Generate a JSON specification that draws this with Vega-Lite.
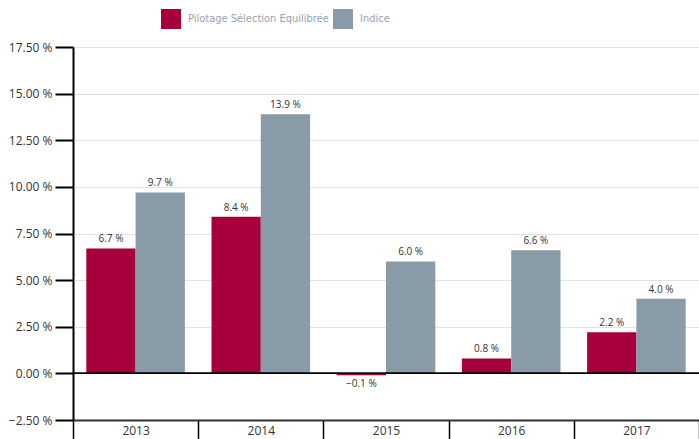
{
  "$schema": "https://vega.github.io/schema/vega-lite/v6.json",
  "width": 626,
  "height": 373,
  "autosize": "none",
  "padding": {"left": 73, "top": 47, "right": 0, "bottom": 19},
  "background": "white",
  "data": {
    "values": [
      {"year": "2013", "series": "Pilotage Sélection Equilibrée", "value": 6.7},
      {"year": "2013", "series": "Indice", "value": 9.7},
      {"year": "2014", "series": "Pilotage Sélection Equilibrée", "value": 8.4},
      {"year": "2014", "series": "Indice", "value": 13.9},
      {"year": "2015", "series": "Pilotage Sélection Equilibrée", "value": -0.1},
      {"year": "2015", "series": "Indice", "value": 6.0},
      {"year": "2016", "series": "Pilotage Sélection Equilibrée", "value": 0.8},
      {"year": "2016", "series": "Indice", "value": 6.6},
      {"year": "2017", "series": "Pilotage Sélection Equilibrée", "value": 2.2},
      {"year": "2017", "series": "Indice", "value": 4.0}
    ]
  },
  "transform": [
    {"calculate": "format(datum.value, '.1f') + ' %'", "as": "label"}
  ],
  "encoding": {
    "x": {
      "field": "year",
      "type": "nominal",
      "scale": {"paddingInner": 0, "paddingOuter": 0},
      "axis": {
        "title": null,
        "orient": "bottom",
        "labelAngle": 0,
        "tickBand": "extent",
        "domainColor": "#333333",
        "domainWidth": 2,
        "tickColor": "#000000",
        "tickWidth": 1.5,
        "tickSize": 22,
        "labelPadding": -17,
        "labelFont": "Open Sans",
        "labelFontSize": 12,
        "labelColor": "#333333",
        "grid": false
      }
    },
    "xOffset": {
      "field": "series",
      "type": "nominal",
      "scale": {"domain": ["Pilotage Sélection Equilibrée", "Indice"], "paddingInner": 0, "paddingOuter": 0.27}
    },
    "y": {
      "field": "value",
      "type": "quantitative",
      "scale": {"domain": [-2.5, 17.5], "nice": false, "zero": false},
      "axis": {
        "title": null,
        "values": [-2.5, 0, 2.5, 5, 7.5, 10, 12.5, 15, 17.5],
        "labelExpr": "format(datum.value, '.2f') + ' %'",
        "domainColor": "#000000",
        "domainWidth": 2,
        "tickColor": "#000000",
        "tickWidth": 2,
        "tickSize": 18,
        "labelPadding": 3,
        "labelFont": "Open Sans",
        "labelFontSize": 12,
        "labelColor": "#333333",
        "grid": true,
        "gridColor": "#e2e2e2",
        "gridWidth": 1
      }
    }
  },
  "layer": [
    {
      "mark": {"type": "bar"},
      "encoding": {
        "color": {
          "field": "series",
          "type": "nominal",
          "scale": {"domain": ["Pilotage Sélection Equilibrée", "Indice"], "range": ["#A6003C", "#8A9BA8"]},
          "legend": {
            "title": null,
            "orient": "none",
            "direction": "horizontal",
            "legendX": 88,
            "legendY": -38,
            "symbolType": "square",
            "symbolSize": 400,
            "symbolStrokeWidth": 0,
            "symbolOpacity": 1,
            "labelFont": "DejaVu Sans Condensed",
            "labelFontSize": 11,
            "labelColor": "#9aa3aa",
            "labelOffset": 7,
            "columnPadding": 4
          }
        }
      }
    },
    {
      "mark": {"type": "rule", "color": "#000000", "strokeWidth": 1},
      "encoding": {"y": {"datum": 0}, "x": null, "xOffset": null}
    },
    {
      "transform": [{"filter": "datum.value >= 0"}],
      "mark": {"type": "text", "baseline": "bottom", "dy": -4, "font": "Open Sans", "fontSize": 10, "color": "#333333"},
      "encoding": {"text": {"field": "label"}}
    },
    {
      "transform": [{"filter": "datum.value < 0"}],
      "mark": {"type": "text", "baseline": "top", "dy": 4, "font": "Open Sans", "fontSize": 10, "color": "#333333"},
      "encoding": {"text": {"field": "label"}}
    }
  ],
  "config": {"view": {"stroke": null}}
}
